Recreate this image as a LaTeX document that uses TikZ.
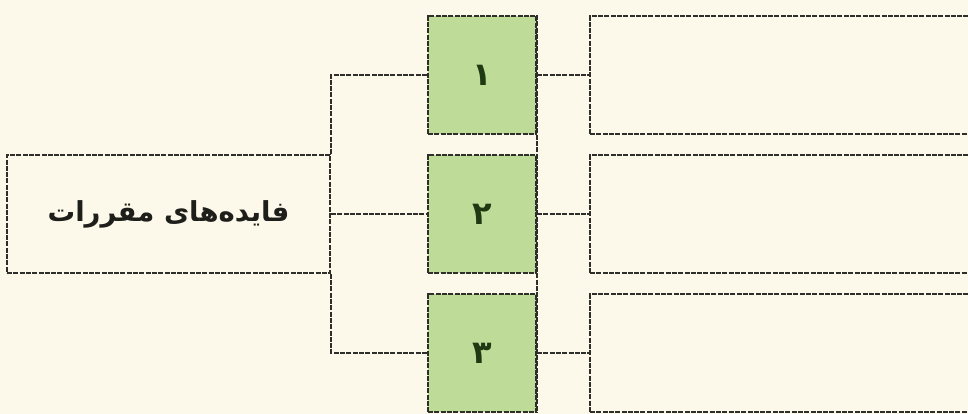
\documentclass[tikz,border=0pt]{standalone}
\usepackage{fontspec}
\TeXXeTstate=1
\newfontfamily\arabicfont[Script=Arabic]{DejaVu Sans}
\definecolor{bg}{HTML}{FDF9EA}
\definecolor{grn}{HTML}{BEDC98}
\definecolor{ln}{HTML}{2E2E2A}
\definecolor{txt}{HTML}{1E1E1A}
\definecolor{dig}{HTML}{1F3A12}
\tikzset{
  wline/.style={draw=ln, line width=2.1pt, dash pattern=on 5pt off 1.3pt},
  lbox/.style={wline, fill=bg, minimum width=323pt, minimum height=118pt, inner sep=0pt},
  gbox/.style={wline, fill=grn, minimum width=108pt, minimum height=118pt, inner sep=0pt,
    text=dig, font=\arabicfont\bfseries\fontsize{32}{36}\selectfont},
  rbox/.style={wline, fill=bg, minimum width=420pt, minimum height=118pt, inner sep=0pt},
}
\begin{document}
\begin{tikzpicture}[x=1pt,y=-1pt]
\fill[bg] (0,0) rectangle (968,414);
\useasboundingbox (0,0) rectangle (968,414);
\clip (0,0) rectangle (968,414);
\node[lbox, text=txt, font=\arabicfont\bfseries\fontsize{27.5}{32}\selectfont] (L) at (168.5,214) {\beginR فایده‌های مقررات\endR};
\node[gbox] (g1) at (482,75) {۱};
\node[gbox] (g2) at (482,214) {۲};
\node[gbox] (g3) at (482,353) {۳};
\node[rbox] (r1) at (800,75) {};
\node[rbox] (r2) at (800,214) {};
\node[rbox] (r3) at (800,353) {};
\draw[wline] (g1.west) -| (L.north east);
\draw[wline] (g3.west) -| (L.south east);
\draw[wline] (L.east) -- (g2.west);
\draw[wline] (g1.north east) -- (g3.south east);
\draw[wline] (g1.east) -- (r1.west);
\draw[wline] (g2.east) -- (r2.west);
\draw[wline] (g3.east) -- (r3.west);
\end{tikzpicture}
\end{document}
